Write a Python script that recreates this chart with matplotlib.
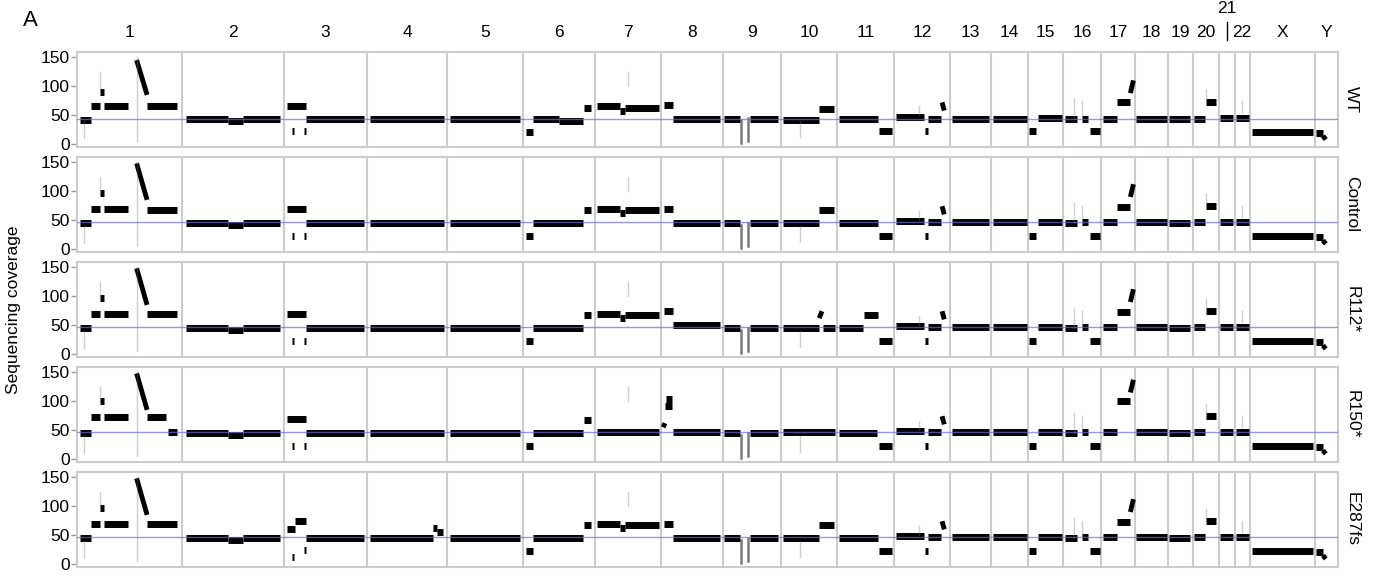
import numpy as np
import matplotlib
matplotlib.use('Agg')
import matplotlib.pyplot as plt

plt.rcParams['font.family'] = ['Liberation Sans', 'DejaVu Sans']

chroms = ['1', '2', '3', '4', '5', '6', '7', '8', '9', '10', '11', '12',
          '13', '14', '15', '16', '17', '18', '19', '20', '21', '22', 'X', 'Y']
chrom_len = [249, 243, 198, 191, 180, 171, 159, 146, 138, 135, 135, 133,
             98, 88, 84, 90, 81, 78, 59, 62, 38, 36, 155, 55]

samples = ['WT', 'Control', 'R112*', 'R150*', 'E287fs']
baseline = [44, 46, 46, 46, 46]

# segments: (start frac, end frac, level) or (start, end, level_start, level_end)
seg_wt = {
    '1': [(0.03, 0.13, 42), (0.13, 0.22, 66), (0.22, 0.26, 90), (0.26, 0.49, 66),
          (0.57, 0.67, 145, 85), (0.67, 0.96, 65)],
    '2': [(0.04, 0.45, 43), (0.45, 0.6, 40), (0.6, 0.96, 43)],
    '3': [(0.04, 0.27, 65), (0.27, 0.96, 43), (0.1, 0.125, 22), (0.245, 0.27, 22)],
    '4': [(0.04, 0.96, 43)],
    '5': [(0.04, 0.96, 43)],
    '6': [(0.04, 0.15, 21), (0.15, 0.5, 43), (0.5, 0.84, 40), (0.85, 0.95, 63)],
    '7': [(0.04, 0.38, 65), (0.38, 0.46, 58), (0.46, 0.96, 63)],
    '8': [(0.04, 0.19, 68), (0.19, 0.95, 43)],
    '9': [(0.03, 0.3, 43), (0.47, 0.95, 43)],
    '10': [(0.04, 0.67, 42), (0.68, 0.95, 60)],
    '11': [(0.03, 0.72, 43), (0.74, 0.96, 22)],
    '12': [(0.03, 0.53, 46), (0.55, 0.6, 22), (0.6, 0.85, 44), (0.86, 0.9, 72, 58)],
    '13': [(0.04, 0.95, 44)],
    '14': [(0.04, 0.96, 44)],
    '15': [(0.03, 0.22, 22), (0.28, 0.95, 45)],
    '16': [(0.04, 0.35, 43), (0.49, 0.66, 44), (0.71, 0.97, 22)],
    '17': [(0.07, 0.46, 44), (0.48, 0.85, 72), (0.86, 0.95, 88, 110)],
    '18': [(0.04, 0.96, 44)],
    '19': [(0.05, 0.9, 43)],
    '20': [(0.05, 0.46, 44), (0.5, 0.9, 72)],
    '21': [(0.08, 0.92, 45)],
    '22': [(0.08, 0.95, 45)],
    'X': [(0.04, 0.97, 21)],
    'Y': [(0.05, 0.35, 20), (0.35, 0.47, 14, 8)],
}

seg_common = {
    '2': [(0.04, 0.45, 45), (0.45, 0.6, 42), (0.6, 0.96, 45)],
    '3': [(0.04, 0.27, 70), (0.27, 0.96, 45), (0.1, 0.125, 22), (0.245, 0.27, 23)],
    '4': [(0.04, 0.96, 45)],
    '5': [(0.04, 0.96, 45)],
    '6': [(0.04, 0.15, 22), (0.15, 0.84, 45), (0.85, 0.95, 68)],
    '9': [(0.03, 0.3, 45), (0.47, 0.95, 45)],
    '12': [(0.03, 0.53, 48), (0.55, 0.6, 23), (0.6, 0.85, 46), (0.86, 0.9, 74, 60)],
    '13': [(0.04, 0.95, 46)],
    '14': [(0.04, 0.96, 46)],
    '15': [(0.03, 0.22, 22), (0.28, 0.95, 47)],
    '16': [(0.04, 0.35, 45), (0.49, 0.66, 46), (0.71, 0.97, 22)],
    '17': [(0.07, 0.46, 46), (0.48, 0.85, 73), (0.86, 0.95, 90, 112)],
    '18': [(0.04, 0.96, 46)],
    '19': [(0.05, 0.9, 45)],
    '20': [(0.05, 0.46, 46), (0.5, 0.9, 74)],
    '21': [(0.08, 0.92, 47)],
    '22': [(0.08, 0.95, 47)],
    'X': [(0.04, 0.97, 22)],
    'Y': [(0.05, 0.35, 21), (0.35, 0.47, 15, 9)],
}

seg_control = {
    '1': [(0.03, 0.13, 45), (0.13, 0.22, 70), (0.22, 0.26, 97), (0.26, 0.49, 70),
          (0.57, 0.67, 148, 85), (0.67, 0.96, 68)],
    '7': [(0.04, 0.38, 70), (0.38, 0.46, 63), (0.46, 0.96, 68)],
    '8': [(0.04, 0.19, 70), (0.19, 0.95, 45)],
    '10': [(0.04, 0.67, 45), (0.68, 0.95, 68)],
    '11': [(0.03, 0.72, 45), (0.74, 0.96, 22)],
}

seg_r112 = {
    '1': [(0.03, 0.13, 45), (0.13, 0.22, 70), (0.22, 0.26, 97), (0.26, 0.49, 70),
          (0.57, 0.67, 148, 85), (0.67, 0.96, 69)],
    '7': [(0.04, 0.38, 70), (0.38, 0.46, 63), (0.46, 0.96, 68)],
    '8': [(0.04, 0.19, 75), (0.19, 0.95, 51)],
    '10': [(0.04, 0.67, 45), (0.68, 0.73, 62, 74), (0.75, 0.96, 45)],
    '11': [(0.03, 0.45, 45), (0.47, 0.72, 68), (0.74, 0.96, 22)],
}

seg_r150 = {
    '1': [(0.03, 0.13, 45), (0.13, 0.22, 72), (0.22, 0.26, 100), (0.26, 0.49, 72),
          (0.57, 0.67, 148, 85), (0.67, 0.85, 72), (0.87, 0.96, 47)],
    '7': [(0.04, 0.96, 46)],
    '8': [(0.03, 0.06, 55, 62), (0.06, 0.18, 92), (0.07, 0.17, 104), (0.19, 0.95, 46)],
    '10': [(0.04, 0.96, 46)],
    '11': [(0.03, 0.7, 45), (0.74, 0.96, 22)],
    '17': [(0.07, 0.46, 47), (0.48, 0.85, 100), (0.86, 0.95, 115, 137)],
}

seg_e287 = {
    '1': [(0.03, 0.13, 45), (0.13, 0.22, 70), (0.22, 0.26, 97), (0.26, 0.49, 70),
          (0.57, 0.67, 148, 85), (0.67, 0.96, 70)],
    '3': [(0.04, 0.14, 60), (0.14, 0.27, 74), (0.27, 0.96, 45),
          (0.1, 0.125, 12), (0.245, 0.27, 24)],
    '4': [(0.04, 0.82, 45), (0.82, 0.88, 63), (0.88, 0.95, 56)],
    '7': [(0.04, 0.38, 70), (0.38, 0.46, 63), (0.46, 0.96, 68)],
    '8': [(0.04, 0.19, 70), (0.19, 0.95, 45)],
    '10': [(0.04, 0.67, 45), (0.68, 0.95, 68)],
    '11': [(0.03, 0.72, 45), (0.74, 0.96, 22)],
}

sample_segs = [seg_wt, {**seg_common, **seg_control}, {**seg_common, **seg_r112},
               {**seg_common, **seg_r150}, {**seg_common, **seg_e287}]

# outlier smears, same in every sample
spike_chrom = ['1', '1', '1', '7', '9', '9', '10', '16', '16', '20', '22', '12']
spike_pos = [0.07, 0.22, 0.57, 0.5, 0.32, 0.44, 0.35, 0.28, 0.5, 0.52, 0.5, 0.45]
spike_lo = [10, 95, 5, 100, 2, 5, 12, 45, 50, 80, 55, 50]
spike_hi = [40, 125, 150, 125, 42, 45, 40, 80, 75, 95, 75, 65]

offsets = np.concatenate([[0], np.cumsum(chrom_len)])
total = offsets[-1]

W, H = 1375, 577
fig = plt.figure(figsize=(W / 100, H / 100), dpi=100)
grid_col = '#cccccc'

axes = []
for i, name in enumerate(samples):
    top = 52 + 105 * i
    ax = fig.add_axes([77 / W, 1 - (top + 95) / H, 1261 / W, 95 / H])
    axes.append(ax)
    ax.set_xlim(0, total)
    ax.set_ylim(-5, 159)
    for b in offsets[1:-1]:
        ax.axvline(b, color=grid_col, lw=1.5, zorder=1)
    for s in ax.spines.values():
        s.set_color(grid_col)
        s.set_linewidth(1.5)
    ax.set_xticks([])
    ax.set_yticks([0, 50, 100, 150])
    ax.tick_params(axis='y', length=4, width=1, color='#999999',
                   labelsize=12.5, pad=1)

    segs = sample_segs[i]
    for ci, c in enumerate(chroms):
        for seg in segs.get(c, []):
            s0, s1 = seg[0], seg[1]
            y0 = seg[2]
            y1 = seg[3] if len(seg) > 3 else seg[2]
            x0 = offsets[ci] + s0 * chrom_len[ci]
            x1 = offsets[ci] + s1 * chrom_len[ci]
            ax.plot([x0, x1], [y0, y1], color='black',
                    lw=5 if y0 == y1 else 3.5,
                    solid_capstyle='butt', zorder=2)

    for c, p, lo, hi in zip(spike_chrom, spike_pos, spike_lo, spike_hi):
        ci = chroms.index(c)
        x = offsets[ci] + p * chrom_len[ci]
        dark = c == '9'
        ax.plot([x, x], [lo, hi], color='#222222' if dark else '#777777',
                lw=1.8 if dark else 1.0, alpha=0.6 if dark else 0.35, zorder=2)

    ax.axhline(baseline[i], color='#6b6bd6', lw=1, alpha=0.7, zorder=3)

    ax.text(1.011, 0.5, name, transform=ax.transAxes, rotation=270,
            ha='center', va='center', fontsize=12.5)

# chromosome labels on top
ax0 = axes[0]
tr = ax0.get_xaxis_transform()
for ci, c in enumerate(chroms):
    xc = offsets[ci] + chrom_len[ci] / 2
    if c == '21':
        ax0.text(xc, 1 + 44 / 95, c, transform=tr, ha='center', va='center',
                 fontsize=12.5)
        ax0.plot([xc, xc], [1 + 12 / 95, 1 + 30 / 95], transform=tr,
                 color='black', lw=1, clip_on=False)
    else:
        ax0.text(xc, 1 + 20 / 95, c, transform=tr, ha='center', va='center',
                 fontsize=12.5)

fig.text(30 / W, 1 - 21 / H, 'A', fontsize=16, ha='center', va='center')
fig.text(14 / W, 1 - 310 / H, 'Sequencing coverage', rotation=90,
         ha='center', va='center', fontsize=12.5)

fig.savefig('out.png', dpi=100)
